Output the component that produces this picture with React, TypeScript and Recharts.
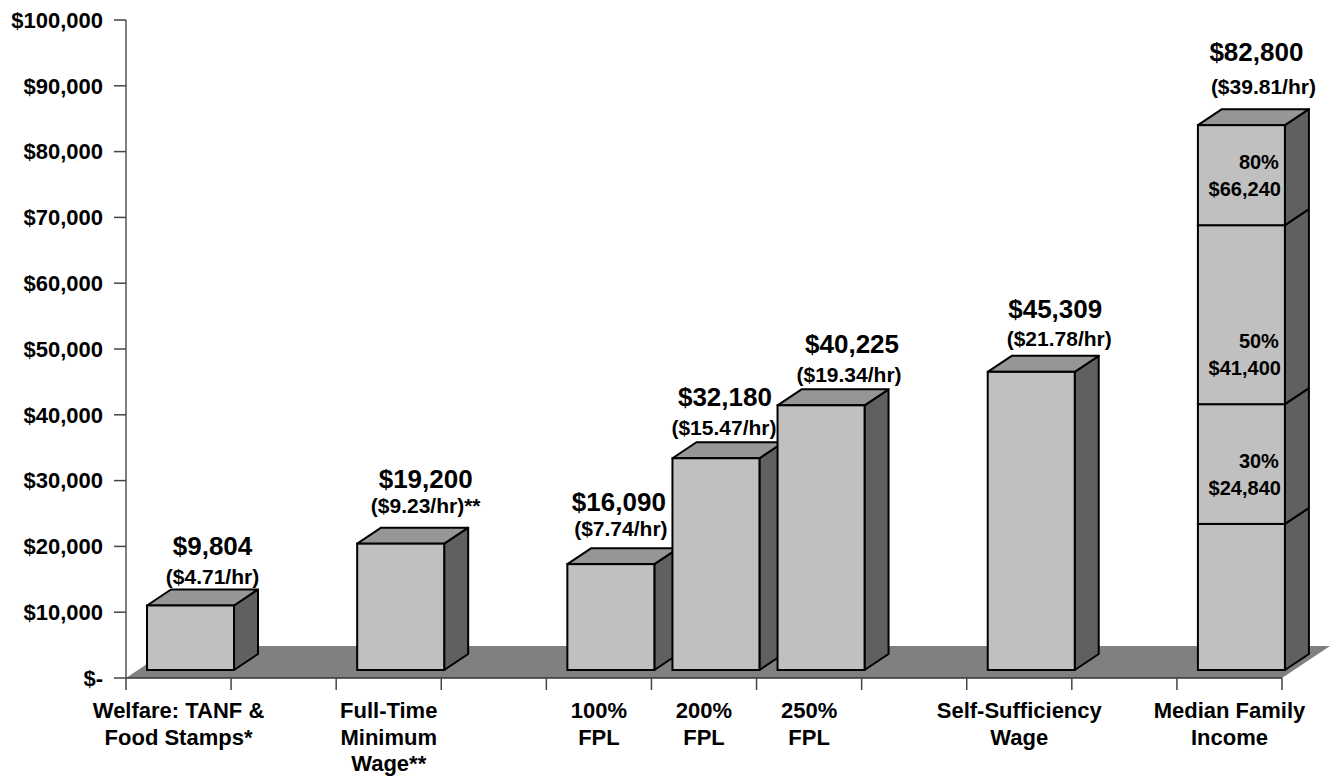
import React from "react";
import { BarChart, Bar, XAxis, YAxis, ReferenceArea } from "recharts";

// category slots along the x axis (empty strings are the gaps between groups)
const tickLines: string[][] = [
  ["Welfare: TANF &", "Food Stamps*"],
  [],
  ["Full-Time", "Minimum", "Wage**"],
  [],
  ["100%", "FPL"],
  ["200%", "FPL"],
  ["250%", "FPL"],
  [],
  ["Self-Sufficiency", "Wage"],
  [],
  ["Median Family", "Income"],
];

const annualIncome: (number | null)[] = [9804, null, 19200, null, 16090, 32180, 40225, null, 45309, null, 82800];
const hourlyWage: string[] = ["($4.71/hr)", "", "($9.23/hr)**", "", "($7.74/hr)", "($15.47/hr)", "($19.34/hr)", "", "($21.78/hr)", "", "($39.81/hr)"];

// where the 30% / 50% / 80% lines sit on the median family income bar
const mfiBreaks = [22200, 40400, 67600];
const mfiPct = ["30%", "50%", "80%"];
const mfiDollars = ["$24,840", "$41,400", "$66,240"];

const yTicks = [0, 10000, 20000, 30000, 40000, 50000, 60000, 70000, 80000, 90000, 100000];

const MEDIAN = 10;

const data = tickLines.map((_, i) => {
  const total = annualIncome[i];
  if (i === MEDIAN && total != null) {
    return {
      id: i,
      seg1: mfiBreaks[0],
      seg2: mfiBreaks[1] - mfiBreaks[0],
      seg3: mfiBreaks[2] - mfiBreaks[1],
      seg4: total - mfiBreaks[2],
    };
  }
  return { id: i, value: total };
});

// label nudges [dx amount, dy amount, dx hourly, dy hourly] from the front face top centre
const labelNudge: Record<number, number[]> = {
  0: [22, -60, 22, -29],
  2: [25, -65, 25, -38],
  4: [8, -62, 10, -36],
  5: [9, -62, 8, -31],
  6: [31, -62, 28, -31],
  8: [24, -63, 28, -33],
  10: [15, -73, 22, -39],
};

const FONT = '"Liberation Sans", Arial, Helvetica, sans-serif';
const PLOT_LEFT = 126;
const PLOT_RIGHT = 1282;
const BAND = (PLOT_RIGHT - PLOT_LEFT) / tickLines.length;
const SHIFT_X = 12;
const SHIFT_Y = 8;
const DX = 24;
const DY = 16;
const FLOOR_DX = 48;
const FLOOR_DY = 32;

const Floor = (props: any) => {
  const { x, y, width, height } = props;
  const b = y + height;
  const pts = `${x},${b} ${x + width},${b} ${x + width + FLOOR_DX},${b - FLOOR_DY} ${x + FLOOR_DX},${b - FLOOR_DY}`;
  return <polygon points={pts} fill="#808080" stroke="none" />;
};

const Block = (props: any) => {
  const { x, y, width, height, payload, part } = props;
  if (payload == null || payload[part] == null || !(height > 0)) return <g />;
  const fx = x + SHIFT_X;
  const fy = y - SHIFT_Y;
  const fb = fy + height;
  const right = fx + width;
  const isTop = part === "value" || part === "seg4";
  const breakIdx = part === "seg2" ? 0 : part === "seg3" ? 1 : part === "seg4" ? 2 : -1;
  const id = payload.id;
  const nudge = labelNudge[id] || [22, -61, 22, -32];
  const cx = fx + width / 2;
  const total = annualIncome[id];

  return (
    <g>
      <polygon
        points={`${right},${fy} ${right + DX},${fy - DY} ${right + DX},${fb - DY} ${right},${fb}`}
        fill="#606060"
        stroke="#000"
        strokeWidth={2}
        strokeLinejoin="round"
      />
      {isTop && (
        <polygon
          points={`${fx},${fy} ${fx + DX},${fy - DY} ${right + DX},${fy - DY} ${right},${fy}`}
          fill="#969696"
          stroke="#000"
          strokeWidth={2}
          strokeLinejoin="round"
        />
      )}
      <rect x={fx} y={fy} width={width} height={height} fill="#C0C0C0" stroke="#000" strokeWidth={2} />
      {breakIdx >= 0 && (
        <g fontFamily={FONT} fontWeight="bold" fontSize={20} fill="#000" textAnchor="end">
          <text x={right - 6} y={fb - 63 + 7}>{mfiPct[breakIdx]}</text>
          <text x={right - 4} y={fb - 36 + 7}>{mfiDollars[breakIdx]}</text>
        </g>
      )}
      {isTop && total != null && (
        <g fontFamily={FONT} fontWeight="bold" fill="#000" textAnchor="middle">
          <text x={cx + nudge[0]} y={fy + nudge[1] + 9.3} fontSize={26}>
            {"$" + total.toLocaleString("en-US")}
          </text>
          <text x={cx + nudge[2]} y={fy + nudge[3] + 7.5} fontSize={21}>
            {hourlyWage[id]}
          </text>
        </g>
      )}
    </g>
  );
};

const CategoryTick = (props: any) => {
  const { x, y, payload } = props;
  const id = Number(payload.value);
  const lines = tickLines[id] || [];
  return (
    <g>
      <line x1={x - BAND / 2} y1={y} x2={x - BAND / 2} y2={y + 12} stroke="#444" strokeWidth={1.5} />
      {id === tickLines.length - 1 && (
        <line x1={x + BAND / 2} y1={y} x2={x + BAND / 2} y2={y + 12} stroke="#444" strokeWidth={1.5} />
      )}
      <text x={x} y={y} textAnchor="middle" fontFamily={FONT} fontWeight="bold" fontSize={22} fill="#000">
        {lines.map((ln, k) => (
          <tspan key={k} x={x} y={y + 40 + k * 26.5}>
            {ln}
          </tspan>
        ))}
      </text>
    </g>
  );
};

const formatMoney = (v: number) => (v === 0 ? "$-" : "$" + v.toLocaleString("en-US"));

const App = () => {
  return (
    <div style={{ width: 1330, height: 777 }}>
      <style>{`body{margin:0;}`}</style>
      <BarChart
        width={1330}
        height={777}
        data={data}
        barSize={87}
        margin={{ top: 20, right: 1330 - PLOT_RIGHT, bottom: 0, left: 0 }}
      >
        <ReferenceArea y1={0} y2={100000} ifOverflow="visible" shape={(p: any) => <Floor {...p} />} />
        <XAxis
          dataKey="id"
          type="category"
          interval={0}
          height={99}
          tickLine={false}
          tickSize={0}
          tickMargin={0}
          axisLine={{ stroke: "#333", strokeWidth: 1.5 }}
          tick={<CategoryTick />}
        />
        <YAxis
          width={126}
          domain={[0, 100000]}
          ticks={yTicks}
          interval={0}
          tickFormatter={formatMoney}
          tickSize={12}
          tickMargin={11}
          axisLine={{ stroke: "#555", strokeWidth: 1.5 }}
          tickLine={{ stroke: "#444", strokeWidth: 1.5 }}
          tick={{ fontSize: 22, fontWeight: "bold", fill: "#000", fontFamily: FONT }}
        />
        <Bar dataKey="value" stackId="a" isAnimationActive={false} shape={(p: any) => <Block {...p} part="value" />} />
        <Bar dataKey="seg1" stackId="a" isAnimationActive={false} shape={(p: any) => <Block {...p} part="seg1" />} />
        <Bar dataKey="seg2" stackId="a" isAnimationActive={false} shape={(p: any) => <Block {...p} part="seg2" />} />
        <Bar dataKey="seg3" stackId="a" isAnimationActive={false} shape={(p: any) => <Block {...p} part="seg3" />} />
        <Bar dataKey="seg4" stackId="a" isAnimationActive={false} shape={(p: any) => <Block {...p} part="seg4" />} />
      </BarChart>
    </div>
  );
};

export default App;
